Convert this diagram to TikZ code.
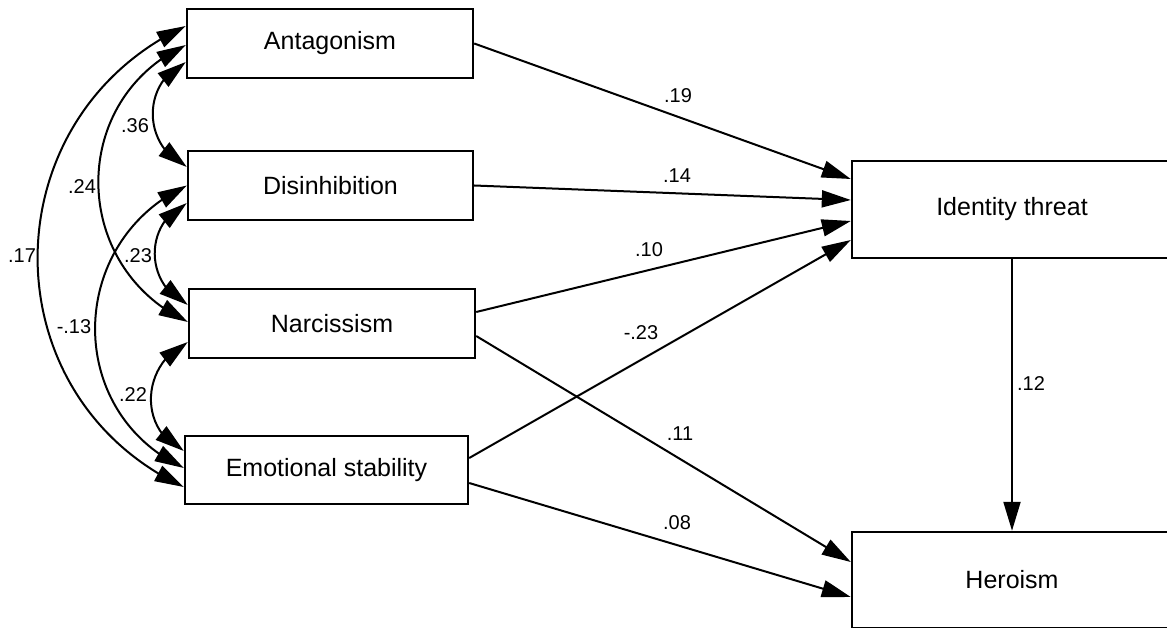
\documentclass[tikz,border=0pt]{standalone}
\usepackage{fontspec}
\setmainfont{Liberation Sans}
\usetikzlibrary{arrows.meta,bending}
\begin{document}
\begin{tikzpicture}[x=1pt,y=1pt,
  box/.style={draw, line width=2.4pt, inner sep=0pt, font=\fontsize{25}{30}\selectfont},
  dirpath/.style={line width=2pt, -{Triangle[length=29pt,width=17pt]}},
  covarc/.style={line width=2pt, {Triangle[length=29pt,width=17pt,flex]}-{Triangle[length=29pt,width=17pt,flex]}, out=205, in=155, looseness=1.2},
  coef/.style={font=\fontsize{20}{24}\selectfont, inner sep=0pt}]
\useasboundingbox (0,0) rectangle (1167,-628);
\clip (0,0) rectangle (1167,-628);
% boxes
\node[box, minimum width=286pt, minimum height=69pt] (ant) at (330,-43.5) {Antagonism};
\node[box, minimum width=285pt, minimum height=69pt] (dis) at (330.5,-185.5) {Disinhibition};
\node[box, minimum width=286pt, minimum height=69pt] (nar) at (332,-323.5) {Narcissism};
\node[box, minimum width=283pt, minimum height=68pt] (emo) at (326.5,-470) {Emotional stability};
\node[box, minimum width=320pt, minimum height=97pt] (it) at (1012,-209.5) {Identity threat};
\node[box, minimum width=320pt, minimum height=96pt] (her) at (1012,-580) {Heroism};
% regression paths
\draw[dirpath] (ant.east) -- ([yshift=30.5pt]it.west);
\draw[dirpath] (dis.east) -- ([yshift=9.5pt]it.west);
\draw[dirpath] ([yshift=11.5pt]nar.east) -- ([yshift=-11.5pt]it.west);
\draw[dirpath] ([yshift=12pt]emo.east) -- ([yshift=-30.5pt]it.west);
\draw[dirpath] ([yshift=-12.5pt]nar.east) -- ([yshift=18pt]her.west);
\draw[dirpath] ([yshift=-13pt]emo.east) -- ([yshift=-17pt]her.west);
\draw[dirpath] (it.south) -- (her.north);
% covariances
\draw[covarc] ([yshift=17.5pt]ant.west) to ([yshift=-17pt]emo.west);
\draw[covarc] ([yshift=-1.5pt]ant.west) to ([yshift=1.5pt]nar.west);
\draw[covarc] ([yshift=-18.5pt]ant.west) to ([yshift=18.5pt]dis.west);
\draw[covarc] ([yshift=0pt]dis.west) to ([yshift=2pt]emo.west);
\draw[covarc] ([yshift=-17.5pt]dis.west) to ([yshift=18.5pt]nar.west);
\draw[covarc] ([yshift=-18.5pt]nar.west) to ([yshift=19pt]emo.west);
% coefficients
\node[coef] (c19) at (678,-96) {.19};
\node[coef] (c14) at (677,-176) {.14};
\node[coef] (c10) at (649,-250) {.10};
\node[coef] (c23n) at (641,-333) {-.23};
\node[coef] (c11) at (680,-434) {.11};
\node[coef] (c08) at (677,-523) {.08};
\node[coef] (c12) at (1031,-384) {.12};
\node[coef] (c36) at (135,-126) {.36};
\node[coef] (c24) at (82,-187) {.24};
\node[coef] (c17) at (22,-256) {.17};
\node[coef] (c23) at (138,-256) {.23};
\node[coef] (c13) at (74,-327) {-.13};
\node[coef] (c22) at (133,-395) {.22};
\end{tikzpicture}
\end{document}
